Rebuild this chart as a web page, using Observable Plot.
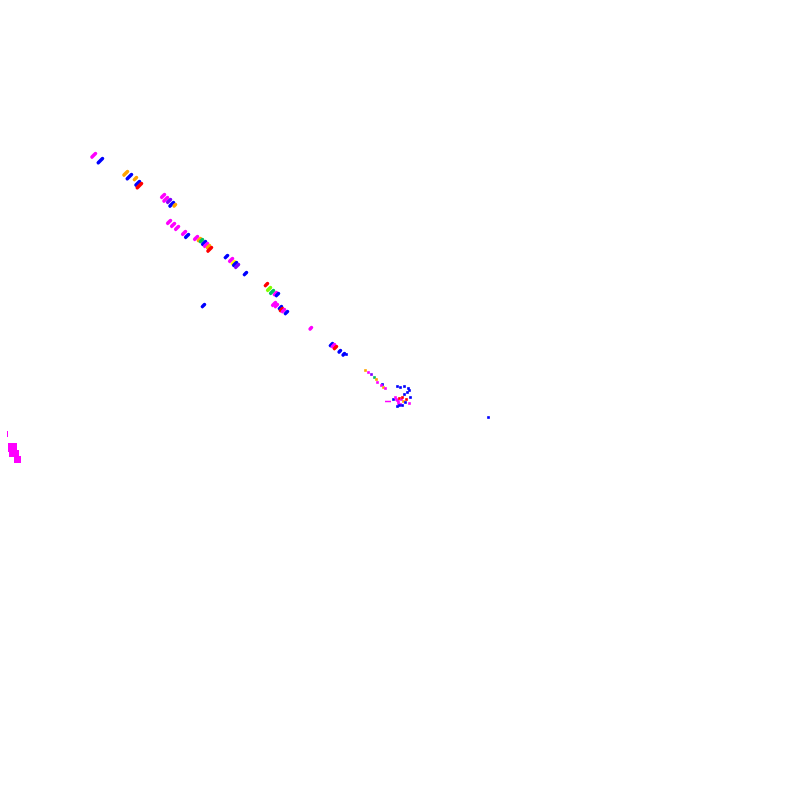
<!DOCTYPE html>
<html><head><meta charset="utf-8">
<script src="https://cdn.jsdelivr.net/npm/d3@7"></script>
<script src="https://cdn.jsdelivr.net/npm/@observablehq/plot@0.6"></script>
<style>body{margin:0;background:#fff}</style>
</head><body>
<div id="chart"></div>
<script>
// elongated blobs along the diagonal band (x, y in plot units, colour category, length)
const blobX = [95,102,127,131,136,139,141,164,167,170,173,175,170,174,178,185,188,197,200,202,205,207,209,211,227,232,234,236,238,246,267,270,273,276,278,275,277,281,282,284,287,204,311,332,334,336,340,344];
const blobY = [153,158,171,174,177,181,183,194,197,199,202,204,220,223,226,231,234,236,238,239,241,243,245,247,255,258,261,262,264,272,283,287,290,292,293,302,304,306,308,309,311,304,327,343,344,346,350,353];
const blobC = ["m","b","o","b","o","b","r","m","m","p","b","o","m","m","m","m","b","m","o","g","b","m","o","r","b","m","y","b","p","b","r","l","g","m","b","m","m","b","r","m","b","b","m","b","m","r","b","b"];
const blobL = [5,6,5,6,3,5,6,4,5,4,5,2,4,4,4,4,4,4,3,3,4,4,3,5,3,4,3,4,4,3,3,4,4,3,3,4,3,3,3,3,3,3,2,3,3,3,2,2];

// small square points near the lower end and the cluster
const dotX = [346,365,368,371,374,376,377,382,381,383,385,397,400,404,408,404,393,395,397,399,401,403,398,400,402,405,397,399,410,407,409,488,409,406,396,398,402];
const dotY = [354,370,372,374,377,379,382,384,385,387,388,386,387,386,388,394,399,397,400,398,399,401,403,404,405,402,406,405,397,392,403,417,390,399,399,401,397];
const dotC = ["b","o","m","p","g","o","m","b","m","o","m","b","b","b","b","b","b","m","m","r","m","o","m","m","b","b","b","b","b","b","m","b","b","r","m","m","r"];

// horizontal streak in the cluster
const streakX1 = [385]; const streakX2 = [391]; const streakY = [401]; const streakC = ["m"];

// large magenta blocks at the left edge
const blockX1 = [8,9,14]; const blockX2 = [17,19,21];
const blockY1 = [443,450,456]; const blockY2 = [452,457,463];
const blockC = ["m","m","m"];

// thin tick at the left edge
const tickX = [7]; const tickY1 = [431]; const tickY2 = [437]; const tickC = ["m"];

const catNames = ["m","b","o","r","y","g","l","p"];
const catColors = ["#ff00ff","#0000ff","#ffa500","#ff0000","#ffff00","#00c060","#80ff00","#8000ff"];

const blobs = blobX.map((x,i)=>({x, y: blobY[i], c: blobC[i], l: blobL[i]}));
const dots = dotX.map((x,i)=>({x, y: dotY[i], c: dotC[i]}));
const streaks = streakX1.map((x1,i)=>({x1, x2: streakX2[i], y: streakY[i], c: streakC[i]}));
const blocks = blockX1.map((x1,i)=>({x1, x2: blockX2[i], y1: blockY1[i], y2: blockY2[i], c: blockC[i]}));
const ticks = tickX.map((x,i)=>({x, y1: tickY1[i], y2: tickY2[i], c: tickC[i]}));

const bar = {draw(ctx, l) { ctx.moveTo(0, -l/2); ctx.lineTo(0, l/2); }};

const chart = Plot.plot({
  width: 800, height: 800,
  margin: 0,
  x: {domain: [0, 800], axis: null},
  y: {domain: [800, 0], axis: null},
  length: {type: "identity"},
  color: {domain: catNames, range: catColors},
  marks: [
    Plot.rect(blocks, {x1: "x1", x2: "x2", y1: "y1", y2: "y2", fill: "c"}),
    Plot.ruleX(ticks, {x: "x", y1: "y1", y2: "y2", stroke: "c", strokeWidth: 1}),
    Plot.vector(blobs, {x: "x", y: "y", length: "l", rotate: 45, anchor: "middle", stroke: "c", strokeWidth: 3.5, shape: bar, strokeLinecap: "round"}),
    Plot.dot(dots, {x: "x", y: "y", fill: "c", symbol: "square", r: 1.5}),
    Plot.ruleY(streaks, {x1: "x1", x2: "x2", y: "y", stroke: "c", strokeWidth: 1.5})
  ]
});
document.getElementById("chart").append(chart);
</script>
</body></html>
